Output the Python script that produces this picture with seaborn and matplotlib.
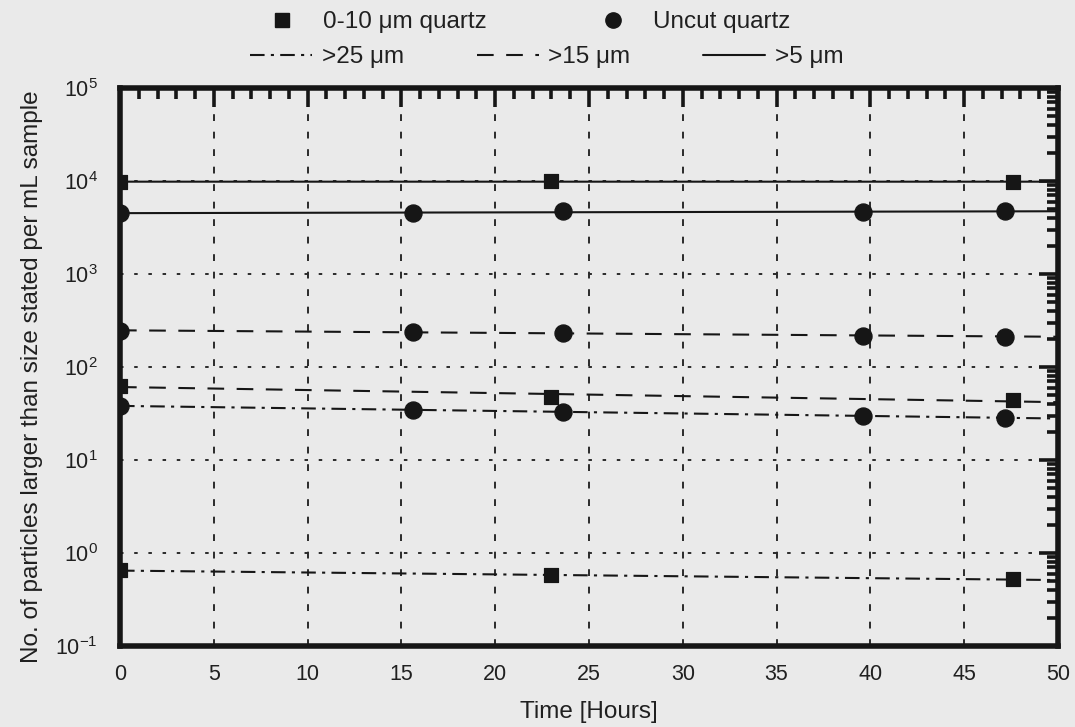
import numpy as np
import pandas as pd
import matplotlib
matplotlib.use("Agg")
import matplotlib.pyplot as plt
from matplotlib.lines import Line2D
from matplotlib.ticker import LogLocator, MultipleLocator, NullFormatter
import seaborn as sns

# ---- data ----
sq_time = [0.0, 23.0, 47.6]
sq_gt5 = [9800, 9900, 9800]
sq_gt15 = [63, 48, 44]
sq_gt25 = [0.65, 0.575, 0.52]

ci_time = [0.0, 15.6, 23.6, 39.6, 47.2]
ci_gt5 = [4500, 4550, 4700, 4600, 4750]
ci_gt15 = [246, 236, 234, 218, 212]
ci_gt25 = [38.5, 34.5, 32.5, 30.0, 28.5]

x_ticks = [0, 5, 10, 15, 20, 25, 30, 35, 40, 45, 50]
legend_materials = ["0-10 \u03bcm quartz", "Uncut quartz"]
legend_sizes = [">25 \u03bcm", ">15 \u03bcm", ">5 \u03bcm"]

# ---- tidy table ----
rows = []
for t, a, b, c in zip(sq_time, sq_gt5, sq_gt15, sq_gt25):
    rows += [("sq", ">5", t, a), ("sq", ">15", t, b), ("sq", ">25", t, c)]
for t, a, b, c in zip(ci_time, ci_gt5, ci_gt15, ci_gt25):
    rows += [("ci", ">5", t, a), ("ci", ">15", t, b), ("ci", ">25", t, c)]
df = pd.DataFrame(rows, columns=["material", "size", "time", "count"])

# fitted lines (log-linear fit) over 0..50 h
fit_rows = []
for (mat, size), g in df.groupby(["material", "size"]):
    k, b0 = np.polyfit(g["time"], np.log10(g["count"]), 1)
    for t in (0.0, 50.0):
        fit_rows.append((mat, size, t, 10 ** (b0 + k * t)))
fit = pd.DataFrame(fit_rows, columns=["material", "size", "time", "count"])

sns.set_style("white")
bg = "#eaeaea"
ink = "#161616"
txt = "#202020"
plt.rcParams["font.family"] = ["Liberation Sans", "DejaVu Sans"]
plt.rcParams["axes.facecolor"] = bg
plt.rcParams["figure.facecolor"] = bg

fig = plt.figure(figsize=(10.75, 7.27), dpi=100)
L, R, T, B = 120, 1058, 88, 646
ax = fig.add_axes([L / 1075, 1 - B / 727, (R - L) / 1075, (B - T) / 727])
ax.set_yscale("log")

dash_styles = {">5": "-", ">15": (0, (8, 6)), ">25": (0, (7, 3, 1.5, 3))}
for (mat, size), g in fit.groupby(["material", "size"]):
    sns.lineplot(data=g, x="time", y="count", ax=ax, color=ink, lw=1.5,
                 linestyle=dash_styles[size], legend=False, zorder=3)

sns.scatterplot(data=df[df.material == "sq"], x="time", y="count", ax=ax,
                marker="s", s=115, color=ink, edgecolor=ink, legend=False, zorder=4)
sns.scatterplot(data=df[df.material == "ci"], x="time", y="count", ax=ax,
                marker="o", s=150, color=ink, edgecolor=ink, legend=False, zorder=4)

ax.set_xlim(0, 50)
ax.set_ylim(1e-1, 1e5)
ax.set_xticks(x_ticks)
ax.xaxis.set_minor_locator(MultipleLocator(1))
ax.yaxis.set_major_locator(LogLocator(base=10, numticks=10))
ax.yaxis.set_minor_locator(LogLocator(base=10, subs=np.arange(2, 10), numticks=20))
ax.yaxis.set_minor_formatter(NullFormatter())

ax.tick_params(which="both", direction="in", top=True, right=True, colors=ink,
               labelsize=15.5, labelcolor=txt)
ax.tick_params(which="major", length=14, width=2.6)
ax.tick_params(which="minor", length=8, width=2.6)
ax.tick_params(axis="x", which="major", pad=13)
ax.tick_params(axis="y", which="major", pad=16)
for sp in ax.spines.values():
    sp.set_linewidth(4)
    sp.set_color(ink)

ax.xaxis.grid(True, which="major", color="#2a2a2a", linestyle=(0, (3.5, 5.5)), linewidth=1.4)
ax.yaxis.grid(True, which="major", color="#2a2a2a", linestyle=(0, (1.8, 5.5)), linewidth=1.4)
ax.set_axisbelow(True)

ax.set_xlabel("Time [Hours]", fontsize=17.5, color=txt)
ax.xaxis.set_label_coords(0.5, -0.098)
ax.set_ylabel("No. of particles larger than size stated per mL sample",
              fontsize=17.5, color=txt)
ax.yaxis.set_label_coords(-0.082, 0.482)

# legends
fs = 17.5
h1 = [Line2D([], [], marker="s", ls="none", color=ink, ms=10),
      Line2D([], [], marker="o", ls="none", color=ink, ms=11)]
fig.legend(h1, legend_materials, loc="center left", bbox_to_anchor=(258 / 1075, 1 - 22 / 727),
           ncol=2, frameon=False, fontsize=fs, columnspacing=4.2, handlelength=2.0,
           handletextpad=0.66, borderaxespad=0, borderpad=0, labelcolor=txt)
h2 = [Line2D([], [], color=ink, lw=1.5, ls=dash_styles[s]) for s in [">25", ">15", ">5"]]
fig.legend(h2, legend_sizes, loc="center left", bbox_to_anchor=(250 / 1075, 1 - 57 / 727),
           ncol=3, frameon=False, fontsize=fs, columnspacing=3.0, handlelength=2.55,
           handletextpad=0.4, borderaxespad=0, borderpad=0, labelcolor=txt)

fig.savefig("out.png", dpi=100, facecolor=bg)
